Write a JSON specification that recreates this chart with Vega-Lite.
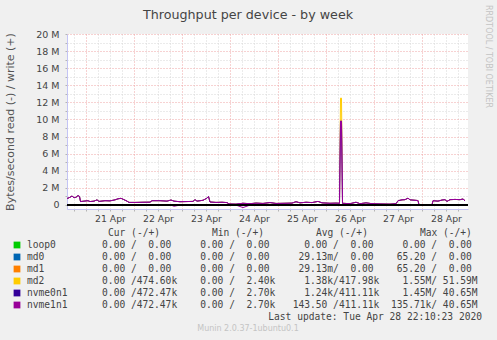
{
"$schema": "https://vega.github.io/schema/vega-lite/v6.json",
"autosize": "none",
"width": 401, "height": 175,
"padding": {"left": 67, "top": 34, "right": 29, "bottom": 131},
"background": "#f0f0f0",
"view": {"fill": "#ffffff", "stroke": null},
"title": {"text": "Throughput per device - by week", "font": "DejaVu Sans", "fontSize": 12.7, "fontWeight": "normal", "color": "#444444", "anchor": "middle", "frame": "group", "dx": -19.5, "baseline": "alphabetic", "offset": -27},
"datasets": {
"series": [
{"h":14.5,"md2":750000,"nvme0n1":750000,"nvme1n1":750000,"rd":-15000},
{"h":16,"md2":900000,"nvme0n1":900000,"nvme1n1":900000,"rd":-15000},
{"h":17,"md2":1050000,"nvme0n1":1050000,"nvme1n1":1050000,"rd":-15000},
{"h":18,"md2":850000,"nvme0n1":850000,"nvme1n1":850000,"rd":-15000},
{"h":19,"md2":900000,"nvme0n1":900000,"nvme1n1":900000,"rd":-15000},
{"h":20,"md2":1100000,"nvme0n1":1100000,"nvme1n1":1100000,"rd":-15000},
{"h":20.75,"md2":1000000,"nvme0n1":1000000,"nvme1n1":1000000,"rd":-15000},
{"h":21.25,"md2":400000,"nvme0n1":400000,"nvme1n1":400000,"rd":-15000},
{"h":23,"md2":450000,"nvme0n1":450000,"nvme1n1":450000,"rd":-15000},
{"h":25,"md2":500000,"nvme0n1":500000,"nvme1n1":500000,"rd":-15000},
{"h":26,"md2":400000,"nvme0n1":400000,"nvme1n1":400000,"rd":-15000},
{"h":28,"md2":450000,"nvme0n1":450000,"nvme1n1":450000,"rd":-15000},
{"h":29.5,"md2":600000,"nvme0n1":600000,"nvme1n1":600000,"rd":-15000},
{"h":30.5,"md2":420000,"nvme0n1":420000,"nvme1n1":420000,"rd":-15000},
{"h":33.5,"md2":500000,"nvme0n1":500000,"nvme1n1":500000,"rd":-15000},
{"h":36,"md2":480000,"nvme0n1":480000,"nvme1n1":480000,"rd":-15000},
{"h":38.5,"md2":600000,"nvme0n1":600000,"nvme1n1":600000,"rd":-15000},
{"h":40,"md2":720000,"nvme0n1":720000,"nvme1n1":720000,"rd":-15000},
{"h":41.5,"md2":780000,"nvme0n1":780000,"nvme1n1":780000,"rd":-15000},
{"h":43,"md2":620000,"nvme0n1":620000,"nvme1n1":620000,"rd":-15000},
{"h":44.5,"md2":450000,"nvme0n1":450000,"nvme1n1":450000,"rd":-15000},
{"h":45.5,"md2":300000,"nvme0n1":300000,"nvme1n1":300000,"rd":-15000},
{"h":49,"md2":300000,"nvme0n1":300000,"nvme1n1":300000,"rd":-15000},
{"h":52.5,"md2":320000,"nvme0n1":320000,"nvme1n1":320000,"rd":-15000},
{"h":56,"md2":330000,"nvme0n1":330000,"nvme1n1":330000,"rd":-15000},
{"h":57,"md2":500000,"nvme0n1":500000,"nvme1n1":500000,"rd":-15000},
{"h":61,"md2":500000,"nvme0n1":500000,"nvme1n1":500000,"rd":-15000},
{"h":64.5,"md2":450000,"nvme0n1":450000,"nvme1n1":450000,"rd":-15000},
{"h":66.5,"md2":580000,"nvme0n1":580000,"nvme1n1":580000,"rd":-15000},
{"h":68,"md2":450000,"nvme0n1":450000,"nvme1n1":450000,"rd":-150000},
{"h":71,"md2":380000,"nvme0n1":380000,"nvme1n1":380000,"rd":-15000},
{"h":74.5,"md2":400000,"nvme0n1":400000,"nvme1n1":400000,"rd":-15000},
{"h":77.5,"md2":420000,"nvme0n1":420000,"nvme1n1":420000,"rd":-15000},
{"h":78.5,"md2":620000,"nvme0n1":620000,"nvme1n1":620000,"rd":-15000},
{"h":79.5,"md2":450000,"nvme0n1":450000,"nvme1n1":450000,"rd":-15000},
{"h":82.5,"md2":550000,"nvme0n1":550000,"nvme1n1":550000,"rd":-15000},
{"h":84.5,"md2":800000,"nvme0n1":800000,"nvme1n1":800000,"rd":-15000},
{"h":85.25,"md2":1000000,"nvme0n1":1000000,"nvme1n1":1000000,"rd":-15000},
{"h":86,"md2":350000,"nvme0n1":350000,"nvme1n1":350000,"rd":-15000},
{"h":89,"md2":300000,"nvme0n1":300000,"nvme1n1":300000,"rd":-15000},
{"h":92,"md2":320000,"nvme0n1":320000,"nvme1n1":320000,"rd":-15000},
{"h":94.5,"md2":280000,"nvme0n1":280000,"nvme1n1":280000,"rd":-15000},
{"h":95.5,"md2":120000,"nvme0n1":120000,"nvme1n1":120000,"rd":-15000},
{"h":99,"md2":100000,"nvme0n1":100000,"nvme1n1":100000,"rd":-15000},
{"h":102.5,"md2":200000,"nvme0n1":200000,"nvme1n1":200000,"rd":-300000},
{"h":106,"md2":150000,"nvme0n1":150000,"nvme1n1":150000,"rd":-15000},
{"h":109,"md2":220000,"nvme0n1":220000,"nvme1n1":220000,"rd":-15000},
{"h":112.5,"md2":180000,"nvme0n1":180000,"nvme1n1":180000,"rd":-15000},
{"h":116,"md2":280000,"nvme0n1":280000,"nvme1n1":280000,"rd":-15000},
{"h":119,"md2":180000,"nvme0n1":180000,"nvme1n1":180000,"rd":-15000},
{"h":123,"md2":200000,"nvme0n1":200000,"nvme1n1":200000,"rd":-15000},
{"h":127,"md2":220000,"nvme0n1":220000,"nvme1n1":220000,"rd":-15000},
{"h":129,"md2":380000,"nvme0n1":380000,"nvme1n1":380000,"rd":-15000},
{"h":131,"md2":250000,"nvme0n1":250000,"nvme1n1":250000,"rd":-15000},
{"h":134,"md2":320000,"nvme0n1":320000,"nvme1n1":320000,"rd":-15000},
{"h":137,"md2":280000,"nvme0n1":280000,"nvme1n1":280000,"rd":-15000},
{"h":140,"md2":420000,"nvme0n1":420000,"nvme1n1":420000,"rd":-15000},
{"h":142,"md2":250000,"nvme0n1":250000,"nvme1n1":250000,"rd":-15000},
{"h":146,"md2":200000,"nvme0n1":200000,"nvme1n1":200000,"rd":-15000},
{"h":149,"md2":220000,"nvme0n1":220000,"nvme1n1":220000,"rd":-15000},
{"h":150.75,"md2":200000,"nvme0n1":200000,"nvme1n1":200000,"rd":-15000},
{"h":151.25,"md2":12500000,"nvme0n1":9800000,"nvme1n1":9800000,"rd":-15000},
{"h":151.75,"md2":12500000,"nvme0n1":9800000,"nvme1n1":9800000,"rd":-15000},
{"h":152.25,"md2":200000,"nvme0n1":200000,"nvme1n1":200000,"rd":-15000},
{"h":156,"md2":150000,"nvme0n1":150000,"nvme1n1":150000,"rd":-15000},
{"h":159,"md2":320000,"nvme0n1":320000,"nvme1n1":320000,"rd":-15000},
{"h":161,"md2":150000,"nvme0n1":150000,"nvme1n1":150000,"rd":-15000},
{"h":164,"md2":250000,"nvme0n1":250000,"nvme1n1":250000,"rd":-15000},
{"h":167,"md2":150000,"nvme0n1":150000,"nvme1n1":150000,"rd":-15000},
{"h":171,"md2":120000,"nvme0n1":120000,"nvme1n1":120000,"rd":-15000},
{"h":176,"md2":100000,"nvme0n1":100000,"nvme1n1":100000,"rd":-15000},
{"h":179,"md2":150000,"nvme0n1":150000,"nvme1n1":150000,"rd":-15000},
{"h":180,"md2":500000,"nvme0n1":500000,"nvme1n1":500000,"rd":-15000},
{"h":182,"md2":600000,"nvme0n1":600000,"nvme1n1":600000,"rd":-15000},
{"h":183.5,"md2":620000,"nvme0n1":620000,"nvme1n1":620000,"rd":-15000},
{"h":185,"md2":800000,"nvme0n1":800000,"nvme1n1":800000,"rd":-15000},
{"h":186,"md2":600000,"nvme0n1":600000,"nvme1n1":600000,"rd":-15000},
{"h":188.5,"md2":550000,"nvme0n1":550000,"nvme1n1":550000,"rd":-15000},
{"h":190,"md2":520000,"nvme0n1":520000,"nvme1n1":520000,"rd":-15000},
{"h":190.5,"md2":0,"nvme0n1":0,"nvme1n1":0,"rd":0},
{"h":197,"md2":0,"nvme0n1":0,"nvme1n1":0,"rd":0},
{"h":197.5,"md2":500000,"nvme0n1":500000,"nvme1n1":500000,"rd":-15000},
{"h":200,"md2":450000,"nvme0n1":450000,"nvme1n1":450000,"rd":-15000},
{"h":202,"md2":580000,"nvme0n1":580000,"nvme1n1":580000,"rd":-15000},
{"h":203.5,"md2":620000,"nvme0n1":620000,"nvme1n1":620000,"rd":-15000},
{"h":204.5,"md2":420000,"nvme0n1":420000,"nvme1n1":420000,"rd":-15000},
{"h":206,"md2":620000,"nvme0n1":620000,"nvme1n1":620000,"rd":-15000},
{"h":208.5,"md2":650000,"nvme0n1":650000,"nvme1n1":650000,"rd":-15000},
{"h":211,"md2":620000,"nvme0n1":620000,"nvme1n1":620000,"rd":-15000},
{"h":212.5,"md2":700000,"nvme0n1":700000,"nvme1n1":700000,"rd":-15000},
{"h":213.5,"md2":500000,"nvme0n1":500000,"nvme1n1":500000,"rd":-15000}
],
"legend": [
{"row":0,"kind":"header","label":"Cur\u00a0(-/+)\u00a0\u00a0\u00a0\u00a0\u00a0\u00a0\u00a0\u00a0\u00a0Min\u00a0(-/+)\u00a0\u00a0\u00a0\u00a0\u00a0\u00a0\u00a0\u00a0\u00a0Avg\u00a0(-/+)\u00a0\u00a0\u00a0\u00a0\u00a0\u00a0\u00a0\u00a0\u00a0Max\u00a0(-/+)"},
{"row":1,"kind":"device","device":"loop0","label":"loop0\u00a0\u00a0\u00a0\u00a0\u00a0\u00a0\u00a0\u00a00.00\u00a0/\u00a0\u00a00.00\u00a0\u00a0\u00a0\u00a0\u00a00.00\u00a0/\u00a0\u00a00.00\u00a0\u00a0\u00a0\u00a0\u00a0\u00a00.00\u00a0/\u00a0\u00a00.00\u00a0\u00a0\u00a0\u00a0\u00a00.00\u00a0/\u00a0\u00a00.00"},
{"row":2,"kind":"device","device":"md0","label":"md0\u00a0\u00a0\u00a0\u00a0\u00a0\u00a0\u00a0\u00a0\u00a0\u00a00.00\u00a0/\u00a0\u00a00.00\u00a0\u00a0\u00a0\u00a0\u00a00.00\u00a0/\u00a0\u00a00.00\u00a0\u00a0\u00a0\u00a0\u00a029.13m/\u00a0\u00a00.00\u00a0\u00a0\u00a0\u00a065.20\u00a0/\u00a0\u00a00.00"},
{"row":3,"kind":"device","device":"md1","label":"md1\u00a0\u00a0\u00a0\u00a0\u00a0\u00a0\u00a0\u00a0\u00a0\u00a00.00\u00a0/\u00a0\u00a00.00\u00a0\u00a0\u00a0\u00a0\u00a00.00\u00a0/\u00a0\u00a00.00\u00a0\u00a0\u00a0\u00a0\u00a029.13m/\u00a0\u00a00.00\u00a0\u00a0\u00a0\u00a065.20\u00a0/\u00a0\u00a00.00"},
{"row":4,"kind":"device","device":"md2","label":"md2\u00a0\u00a0\u00a0\u00a0\u00a0\u00a0\u00a0\u00a0\u00a0\u00a00.00\u00a0/474.60k\u00a0\u00a0\u00a0\u00a00.00\u00a0/\u00a0\u00a02.40k\u00a0\u00a0\u00a0\u00a0\u00a01.38k/417.98k\u00a0\u00a0\u00a0\u00a01.55M/\u00a051.59M"},
{"row":5,"kind":"device","device":"nvme0n1","label":"nvme0n1\u00a0\u00a0\u00a0\u00a0\u00a0\u00a00.00\u00a0/472.47k\u00a0\u00a0\u00a0\u00a00.00\u00a0/\u00a0\u00a02.70k\u00a0\u00a0\u00a0\u00a0\u00a01.24k/411.11k\u00a0\u00a0\u00a0\u00a01.45M/\u00a040.65M"},
{"row":6,"kind":"device","device":"nvme1n1","label":"nvme1n1\u00a0\u00a0\u00a0\u00a0\u00a0\u00a00.00\u00a0/472.47k\u00a0\u00a0\u00a0\u00a00.00\u00a0/\u00a0\u00a02.70k\u00a0\u00a0\u00a0143.50\u00a0/411.11k\u00a0\u00a0135.71k/\u00a040.65M"},
{"row":7,"kind":"update","label":"Last update: Tue Apr 28 22:10:23 2020"},
{"row":8,"kind":"credit","label":"Munin 2.0.37-1ubuntu0.1"}
]
},
"layer": [
{
"data": {"name": "series"},
"resolve": {"axis": {"x": "independent", "y": "independent"}},
"layer": [
{"mark": {"type": "line", "color": "#ffcc00", "strokeWidth": 1},
 "encoding": {
  "x": {"field": "h", "type": "quantitative", "scale": {"domain": [14.5, 215], "nice": false, "zero": false},
   "axis": {"orient": "bottom", "title": null, "values": [18,24,30,36,42,48,54,60,66,72,78,84,90,96,102,108,114,120,126,132,138,144,150,156,162,168,174,180,186,192,198,204,210],
    "grid": true, "gridColor": {"condition": {"test": "datum.value % 24 === 0", "value": "#eea4a4"}, "value": "#d6d6d6"}, "gridDash": [1, 2], "gridWidth": 1,
    "domainColor": "#c4c4f4", "domainWidth": 1, "ticks": true, "tickSize": 2, "tickColor": "#b4b4b4", "labels": false}},
  "y": {"field": "md2", "type": "quantitative", "scale": {"domain": [-470000, 20000000], "nice": false, "zero": false},
   "axis": {"orient": "left", "values": [0,1000000,2000000,3000000,4000000,5000000,6000000,7000000,8000000,9000000,10000000,11000000,12000000,13000000,14000000,15000000,16000000,17000000,18000000,19000000,20000000],
    "grid": true, "gridColor": {"condition": {"test": "datum.value % 2000000 === 0", "value": "#eea4a4"}, "value": "#d6d6d6"}, "gridDash": [1, 2], "gridWidth": 1,
    "domainColor": "#c4c4f4", "domainWidth": 1, "ticks": true, "tickSize": 2, "tickColor": "#b4b4b4",
    "labelExpr": "datum.value === 0 ? '0' : (datum.value % 2000000 === 0 ? (datum.value / 1000000) + ' M' : '')",
    "labelFont": "DejaVu Sans", "labelFontSize": 9.5, "labelColor": "#444444", "labelPadding": 6, "labelOverlap": false, "labelFlush": false, "labelBound": false,
    "title": "Bytes/second read (-) / write (+)", "titleFont": "DejaVu Sans", "titleFontSize": 11, "titleFontWeight": "normal", "titleColor": "#555555",
    "titleAngle": -90, "titleX": -57, "titleY": 87.5, "titleAlign": "center", "titleBaseline": "middle"}}
 }},
{"mark": {"type": "line", "color": "#330099", "strokeWidth": 1},
 "encoding": {"x": {"field": "h", "type": "quantitative", "axis": null}, "y": {"field": "nvme0n1", "type": "quantitative", "axis": null}}},
{"mark": {"type": "line", "color": "#990099", "strokeWidth": 1},
 "encoding": {"x": {"field": "h", "type": "quantitative", "axis": null}, "y": {"field": "nvme1n1", "type": "quantitative", "axis": null}}},
{"mark": {"type": "line", "color": "#990099", "strokeWidth": 1},
 "encoding": {"x": {"field": "h", "type": "quantitative",
   "axis": {"orient": "bottom", "title": null, "values": [36,60,84,108,132,156,180,204], "grid": false, "ticks": false, "domain": false,
    "labelExpr": "(20 + floor(datum.value / 24)) + ' Apr'",
    "labelFont": "DejaVu Sans", "labelFontSize": 9.3, "labelColor": "#444444", "labelPadding": 5, "labelOverlap": false, "labelFlush": false, "labelBound": false}},
  "y": {"field": "rd", "type": "quantitative", "axis": null}}},
{"mark": {"type": "rule", "color": "#000000", "strokeWidth": 1},
 "encoding": {"y": {"datum": 0, "type": "quantitative",
   "axis": {"orient": "right", "labels": false, "ticks": false, "domain": false, "grid": false,
    "title": "RRDTOOL / TOBI OETIKER", "titleFont": "DejaVu Sans", "titleFontSize": 8, "titleFontWeight": "normal", "titleColor": "#c4c4c4",
    "titleAngle": 90, "titleX": 19, "titleY": 22, "titleAlign": "center", "titleBaseline": "middle"}}}}
]
},
{
"data": {"name": "legend"},
"encoding": {
 "y": {"field": "row", "type": "quantitative", "scale": {"domain": [0, 8], "range": [199, 295], "nice": false, "zero": false}, "axis": null}
},
"layer": [
{"transform": [{"filter": "datum.kind === 'device'"}],
 "mark": {"type": "square", "size": 46, "filled": true, "opacity": 1},
 "encoding": {
  "x": {"datum": 17, "type": "quantitative", "scale": {"domain": [0, 497], "range": [-67, 430], "nice": false, "zero": false}, "axis": null},
  "color": {"field": "device", "type": "nominal", "scale": {"domain": ["loop0", "md0", "md1", "md2", "nvme0n1", "nvme1n1"], "range": ["#00cc00", "#0066b3", "#ff8000", "#ffcc00", "#330099", "#990099"]}, "legend": null}}},
{"transform": [{"filter": "datum.kind === 'header'"}],
 "mark": {"type": "text", "font": "DejaVu Sans Mono", "fontSize": 9.6, "align": "left", "baseline": "middle", "color": "#444444"},
 "encoding": {"x": {"datum": 108, "type": "quantitative", "axis": null}, "text": {"field": "label"}}},
{"transform": [{"filter": "datum.kind === 'device'"}],
 "mark": {"type": "text", "font": "DejaVu Sans Mono", "fontSize": 9.6, "align": "left", "baseline": "middle", "color": "#444444"},
 "encoding": {"x": {"datum": 27, "type": "quantitative", "axis": null}, "text": {"field": "label"}}},
{"transform": [{"filter": "datum.kind === 'update'"}],
 "mark": {"type": "text", "font": "DejaVu Sans Mono", "fontSize": 9.6, "align": "right", "baseline": "middle", "color": "#444444"},
 "encoding": {"x": {"datum": 482, "type": "quantitative", "axis": null}, "text": {"field": "label"}}},
{"transform": [{"filter": "datum.kind === 'credit'"}],
 "mark": {"type": "text", "font": "DejaVu Sans", "fontSize": 8, "align": "center", "baseline": "middle", "color": "#c4c4c4"},
 "encoding": {"x": {"datum": 248, "type": "quantitative", "axis": null}, "text": {"field": "label"}}}
]
}
],
"resolve": {"scale": {"x": "independent", "y": "independent"}}
}
